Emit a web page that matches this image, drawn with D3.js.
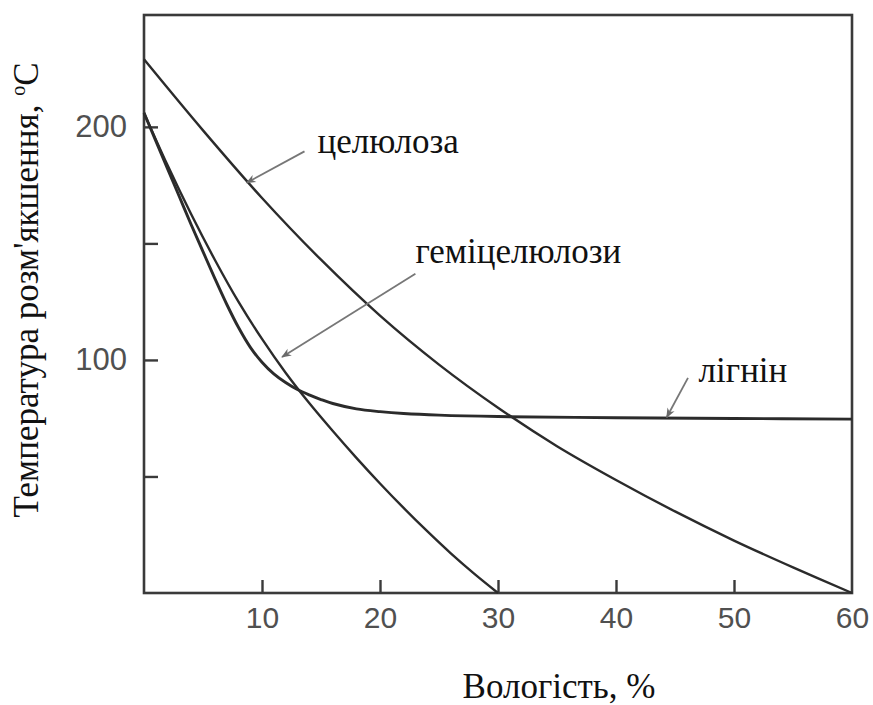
<!DOCTYPE html>
<html>
<head>
<meta charset="utf-8">
<script src="https://cdn.jsdelivr.net/npm/d3@7"></script>
<style>
  html, body { margin: 0; padding: 0; background: #fff; }
  svg { display: block; }
</style>
</head>
<body>
<svg id="chart" width="873" height="705"></svg>
<script>
// Moisture content, % (x) and softening temperature, °C (y) for each component
const celluloseX = [0, 5, 10, 15, 20, 25, 30, 35, 40, 45, 50, 55, 60];
const celluloseY = [229, 198.5, 169.5, 143, 119, 98, 79.5, 63, 48.5, 35, 22.5, 11, 0];

const hemiX = [0, 2, 4, 6, 8, 10, 12, 14, 16, 18, 20, 22, 24, 26, 28, 30];
const hemiY = [206, 183.5, 162.5, 143, 125, 109, 94.5, 81.5, 69.5, 58, 47, 36.5, 26.5, 17, 8.2, 0];

const ligninX = [0, 1, 2, 3, 4, 5, 6, 7, 8, 9, 10, 11, 12, 13, 14, 15, 16, 18, 20, 22, 25, 30, 40, 50, 60];
const ligninY = [206, 194, 182, 170, 158, 146.5, 135, 124, 114, 105.5, 99, 94, 90.3, 87.3, 85, 83, 81.3, 79, 77.8, 77, 76.3, 75.7, 75.2, 74.9, 74.6];

// Axis ticks
const xTicks = [10, 20, 30, 40, 50, 60];
const yTicks = [50, 100, 150, 200];
const yTickLabels = [100, 200];

// Curve captions: text, anchor point of caption, arrow tail and arrow head (data units)
const captionText = ["целюлоза", "геміцелюлози", "лігнін"];
const captionAt = [[14.7, 188.8], [23, 141.6], [47, 90.6]];
const arrowFrom = [[13.6, 189.5], [23, 137], [46.1, 92.3]];
const arrowTo = [[8.7, 176], [11.7, 101.3], [44.3, 75.4]];

const xTitle = "Вологість, %";
const yTitle = "Температура розм'якшення, ";

const svg = d3.select("#chart");
const plot = { left: 144, right: 852, top: 15, bottom: 593 };

const x = d3.scaleLinear().domain([0, 60]).range([plot.left, plot.right]);
const y = d3.scaleLinear().domain([0, 248]).range([plot.bottom, plot.top]);

const ink = "#2b2b2b";
const tickFont = "'Liberation Sans', Arial, sans-serif";
const serif = "'Liberation Serif', 'Times New Roman', serif";

// Frame
svg.append("rect")
  .attr("x", plot.left).attr("y", plot.top)
  .attr("width", plot.right - plot.left).attr("height", plot.bottom - plot.top)
  .attr("fill", "none").attr("stroke", "#3a3a3a").attr("stroke-width", 2.6);

// Bottom axis with inward ticks
const gx = svg.append("g")
  .attr("transform", `translate(0,${plot.bottom})`)
  .call(d3.axisBottom(x).tickValues(xTicks).tickSize(-13).tickPadding(14).tickFormat(d3.format("d")));
gx.select(".domain").remove();
gx.selectAll(".tick line").attr("stroke", "#3a3a3a").attr("stroke-width", 2.4);
gx.selectAll(".tick line").filter(d => d === 60).remove();
gx.selectAll(".tick text")
  .style("font-family", tickFont).attr("font-size", 30).attr("fill", "#505050");

// Left axis with inward ticks
const gy = svg.append("g")
  .attr("transform", `translate(${plot.left},0)`)
  .call(d3.axisLeft(y).tickValues(yTicks).tickSize(-14).tickPadding(17)
    .tickFormat(d => yTickLabels.includes(d) ? d : ""));
gy.select(".domain").remove();
gy.selectAll(".tick line").attr("stroke", "#3a3a3a").attr("stroke-width", 2.4);
gy.selectAll(".tick text")
  .style("font-family", tickFont).attr("font-size", 31).attr("fill", "#505050");

// Curves
const line = d3.line().x(d => x(d[0])).y(d => y(d[1])).curve(d3.curveCatmullRom.alpha(0.5));
const series = [
  { xs: celluloseX, ys: celluloseY, w: 2.4 },
  { xs: hemiX, ys: hemiY, w: 2.4 },
  { xs: ligninX, ys: ligninY, w: 2.9 }
];
series.forEach(s => {
  svg.append("path")
    .datum(s.xs.map((v, i) => [v, s.ys[i]]))
    .attr("d", line)
    .attr("fill", "none")
    .attr("stroke", ink)
    .attr("stroke-width", s.w)
    .attr("stroke-linejoin", "round");
});

// Arrowhead marker
svg.append("defs").append("marker")
  .attr("id", "head")
  .attr("viewBox", "0 0 10 10")
  .attr("refX", 9).attr("refY", 5)
  .attr("markerUnits", "userSpaceOnUse")
  .attr("markerWidth", 12).attr("markerHeight", 10)
  .attr("orient", "auto")
  .append("path")
  .attr("d", "M0,1 L10,5 L0,9 L3,5 Z")
  .attr("fill", "#6a6a6a");

arrowFrom.forEach((f, i) => {
  svg.append("line")
    .attr("x1", x(f[0])).attr("y1", y(f[1]))
    .attr("x2", x(arrowTo[i][0])).attr("y2", y(arrowTo[i][1]))
    .attr("stroke", "#777").attr("stroke-width", 1.8)
    .attr("marker-end", "url(#head)");
});

// Captions
captionText.forEach((t, i) => {
  svg.append("text")
    .attr("x", x(captionAt[i][0])).attr("y", y(captionAt[i][1]))
    .style("font-family", serif).attr("font-size", 35).attr("fill", "#111")
    .text(t);
});

// Axis titles
svg.append("text")
  .attr("x", 559).attr("y", 698)
  .attr("text-anchor", "middle")
  .style("font-family", serif).attr("font-size", 35).attr("fill", "#111")
  .text(xTitle);

const yt = svg.append("text")
  .attr("transform", "translate(38,290) rotate(-90)")
  .attr("text-anchor", "middle")
  .style("font-family", serif).attr("font-size", 35).attr("fill", "#111");
yt.append("tspan").text(yTitle);
yt.append("tspan").attr("font-size", 20).attr("dy", -13).text("o");
yt.append("tspan").attr("dy", 13).text("С");
</script>
</body>
</html>
